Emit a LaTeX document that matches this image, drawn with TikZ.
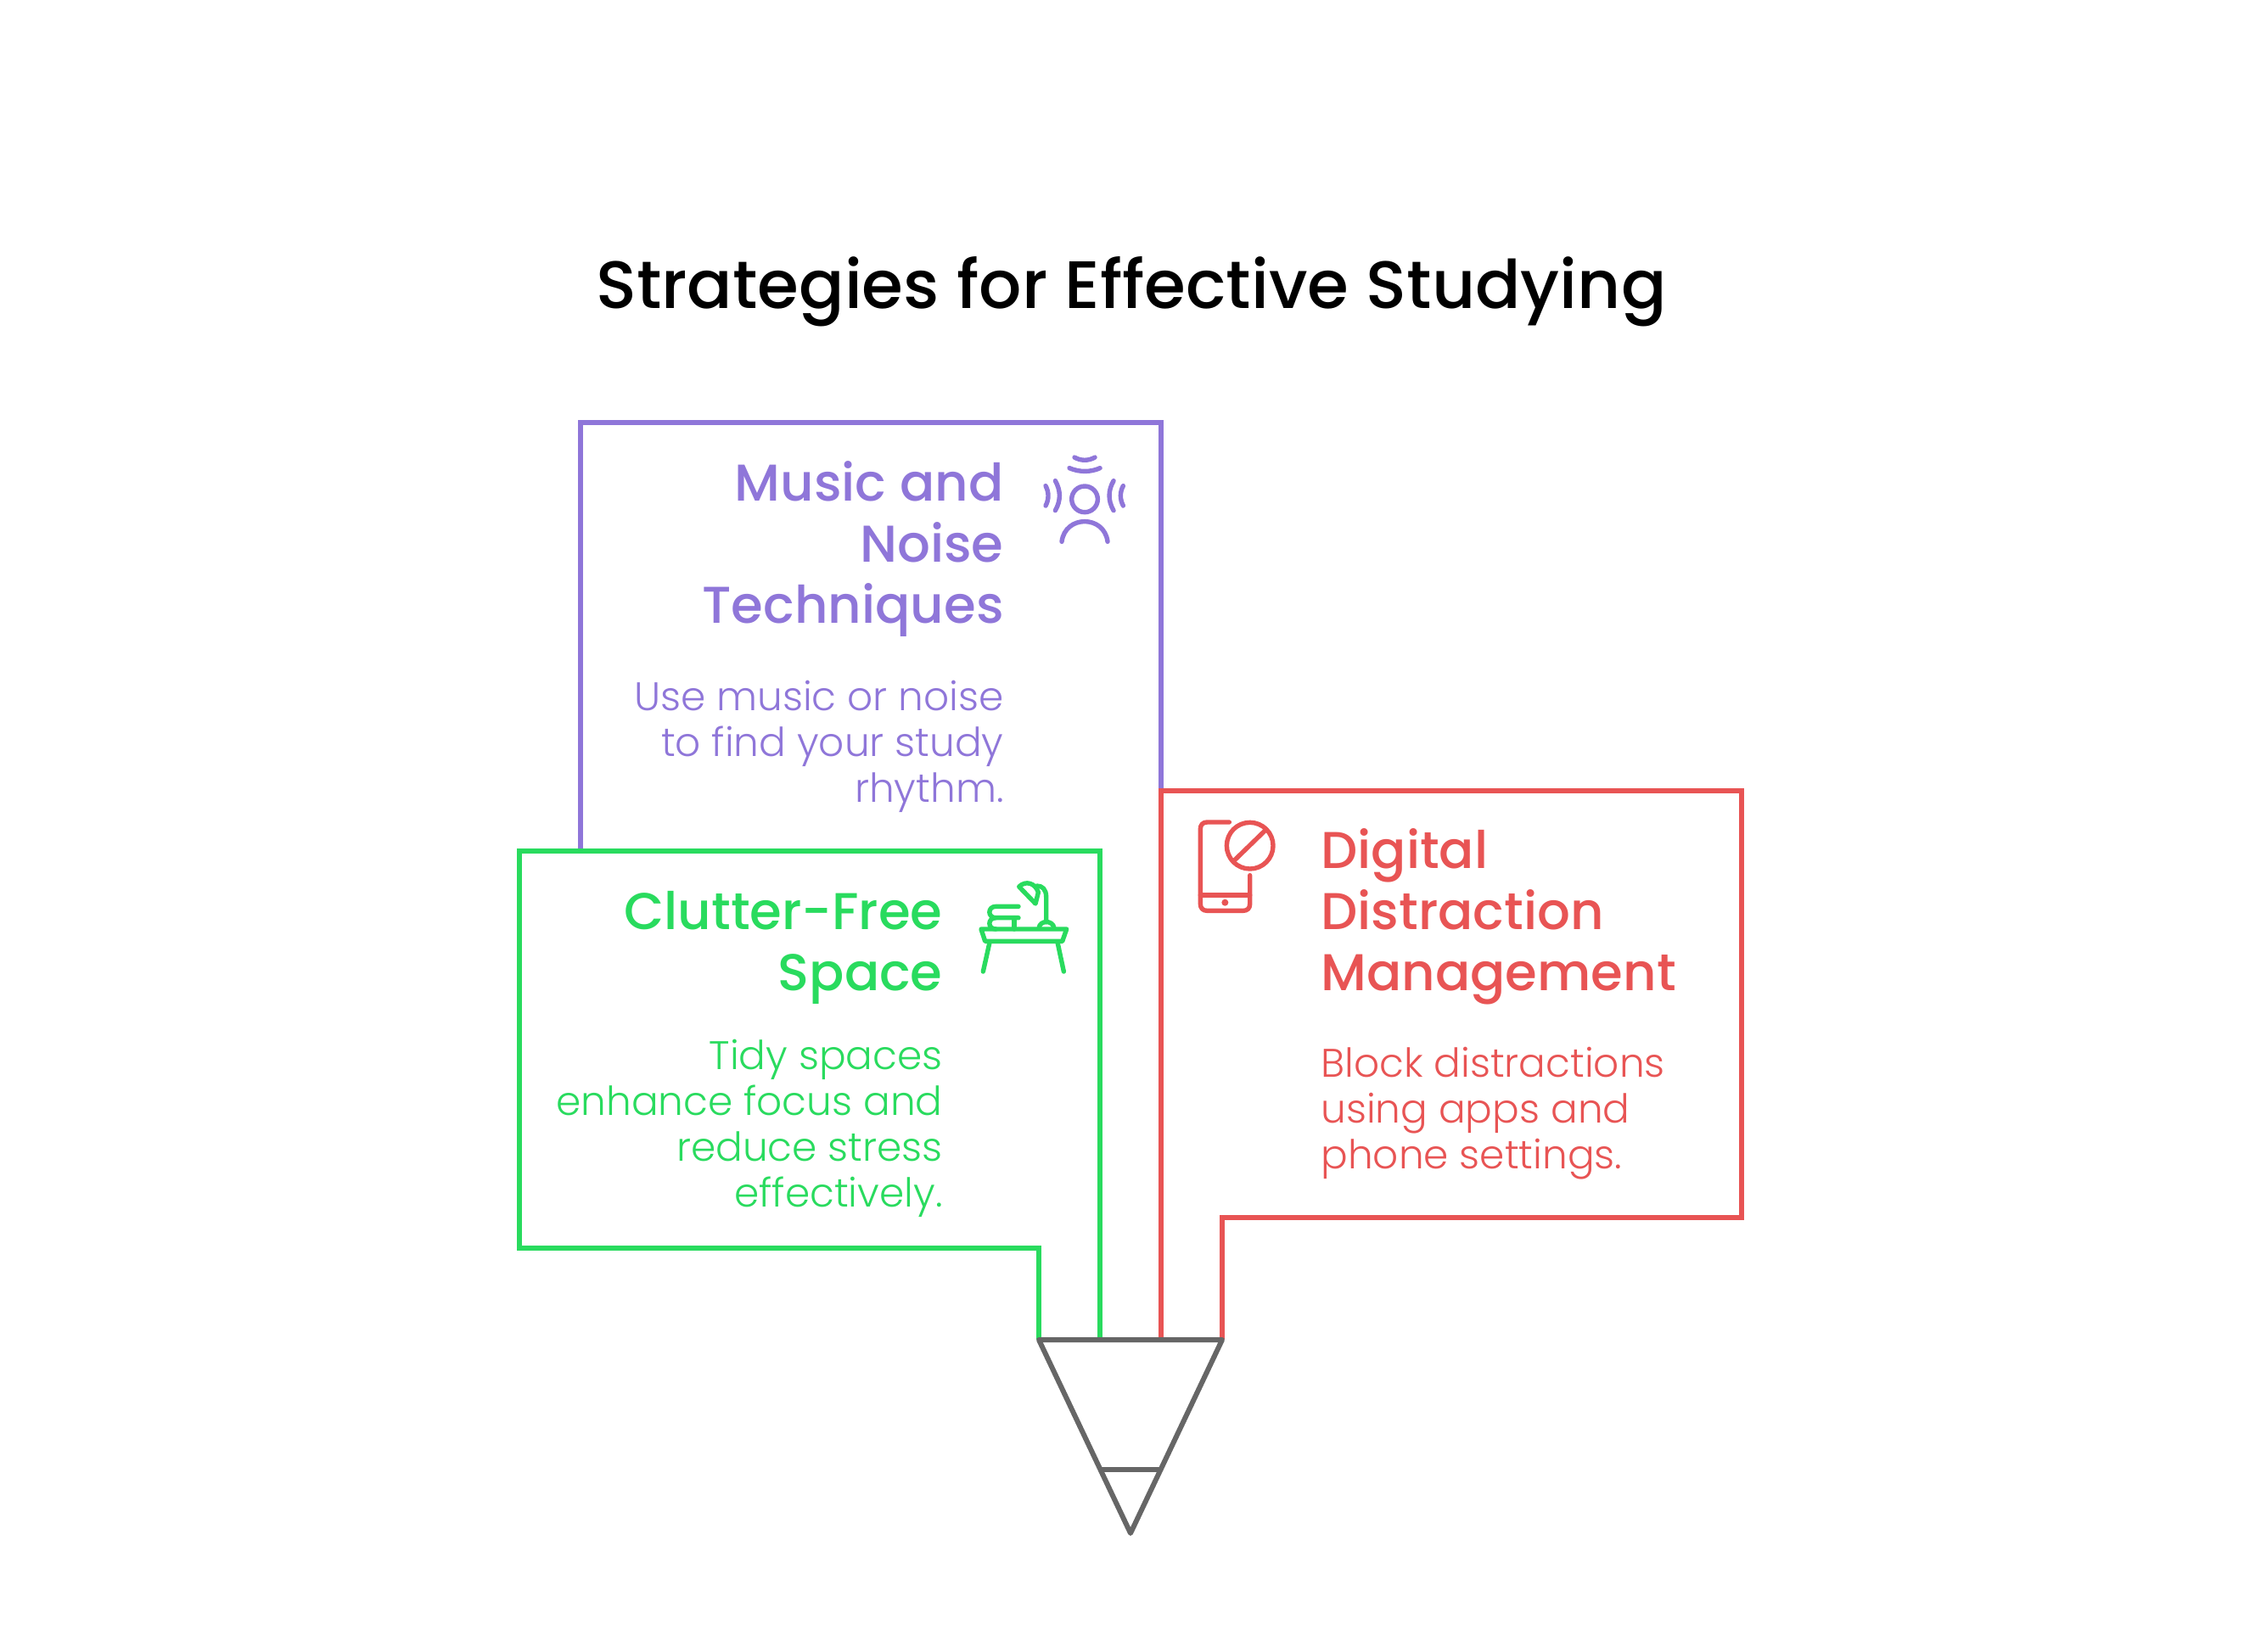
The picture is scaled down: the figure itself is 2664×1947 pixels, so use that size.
\documentclass[tikz,border=0pt]{standalone}
\usepackage{fontspec}
\setmainfont{Poppins}
\newfontfamily\bodyf{Poppins Light}
\newfontfamily\headf{Poppins Medium}
\definecolor{cpurple}{HTML}{8F76D9}
\definecolor{cgreen}{HTML}{29DB5E}
\definecolor{cred}{HTML}{E85454}
\definecolor{cgrey}{HTML}{666666}
\tikzset{
  outline/.style={line width=3pt,miter limit=10,fill=white},
  icon/.style={line width=2.7pt,line cap=round,line join=round},
  headtext/.style={inner sep=0pt,font=\headf\fontsize{30.5}{36}\selectfont},
  bodytext/.style={inner sep=0pt,font=\bodyf\fontsize{23.5}{27}\selectfont},
}
\begin{document}
\begin{tikzpicture}[x=0.5pt,y=-0.5pt]
\useasboundingbox (0,0) rectangle (2664,1947);
\fill[white] (0,0) rectangle (2664,1947);
\coordinate (apexL) at (1224,1579);
\coordinate (apexR) at (1440,1579);
\coordinate (apexB) at (1332,1807);
\coordinate (midL) at (1296,1579);
\coordinate (midR) at (1368,1579);
\coordinate (cutL) at (1296,1732);
\coordinate (cutR) at (1368,1732);
% purple
\draw[outline,draw=cpurple] (684,1003) -- (684,498) -- (1368,498) -- (1368,932);
% green
\draw[outline,draw=cgreen] (midL) -- (1296,1003) -- (612,1003) -- (612,1471) -- (1224,1471) -- (apexL);
% red
\draw[outline,draw=cred] (midR) -- (1368,932) -- (2052,932) -- (2052,1435) -- (1440,1435) -- (apexR);
% funnel
\draw[line width=3pt,draw=cgrey,line join=round,line cap=round] (apexL) -- (apexR) -- (apexB) -- cycle;
\draw[line width=3pt,draw=cgrey] (cutL) -- (cutR);
% texts
\node[font=\headf\fontsize{39.5}{44}\selectfont,inner sep=0pt,anchor=base] (title) at (1333,364) {Strategies for Effective Studying};
\node[headtext,text=cpurple,align=right,anchor=base east] (h1) at (1183,734) {Music and\\Noise\\Techniques};
\node[bodytext,text=cpurple,align=right,anchor=base east] (b1) at (1183,945) {Use music or noise\\to find your study\\rhythm.};
\node[headtext,text=cgreen,align=right,anchor=base east] (h2) at (1111,1167) {Clutter-Free\\Space};
\node[bodytext,text=cgreen,align=right,anchor=base east] (b2) at (1111,1422) {Tidy spaces\\enhance focus and\\reduce stress\\effectively.};
\node[headtext,text=cred,align=left,anchor=base west] (h3) at (1556,1167) {Digital\\Distraction\\Management};
\node[bodytext,text=cred,align=left,anchor=base west] (b3) at (1556,1377) {Block distractions\\using apps and\\phone settings.};
% purple icon
\begin{scope}[shift={(1200,520)},x=0.1667pt,y=-0.1667pt,icon,draw=cpurple]
\draw (234,205) circle[radius=46];
\draw (153,355) .. controls (165,260) and (303,260) .. (315,355);
\draw (198,57) .. controls (220,70) and (248,70) .. (270,57);
\draw (180,95) .. controls (215,110) and (255,110) .. (288,95);
\draw (96,158) .. controls (108,180) and (108,205) .. (96,228);
\draw (130,140) .. controls (150,175) and (150,210) .. (130,245);
\draw (370,158) .. controls (358,180) and (358,205) .. (370,228);
\draw (336,140) .. controls (316,175) and (316,210) .. (336,245);
\end{scope}
% green icon
\begin{scope}[shift={(1140,1020)},x=0.1667pt,y=-0.1667pt,icon,draw=cgreen]
\draw (48,225) -- (350,225) -- (335,268) -- (62,268) -- cycle;
\draw (78,272) -- (55,375);
\draw (318,272) -- (340,375);
\draw (180,145) -- (100,145) .. controls (70,145) and (70,185) .. (100,185) -- (180,185);
\draw (100,185) .. controls (70,185) and (70,225) .. (100,225);
\draw (165,185) -- (165,225);
\draw (252,222) .. controls (255,192) and (302,192) .. (306,222);
\draw (278,200) -- (278,112) .. controls (278,85) and (265,72) .. (245,72);
\draw (182,75) .. controls (205,52) and (240,62) .. (250,95) -- (240,135) -- cycle;
\end{scope}
% red icon
\begin{scope}[shift={(1400,950)},x=0.1667pt,y=-0.1667pt,icon,draw=cred]
\draw (145,57) -- (67,57) .. controls (52,57) and (43,66) .. (43,81) -- (43,346) .. controls (43,361) and (52,370) .. (67,370) -- (194,370) .. controls (209,370) and (218,361) .. (218,346) -- (218,245);
\draw (43,315) -- (218,315);
\fill[cred] (130,341) circle[radius=12];
\draw (218,140) circle[radius=82];
\draw (270,88) -- (165,190);
\end{scope}
\end{tikzpicture}
\end{document}
